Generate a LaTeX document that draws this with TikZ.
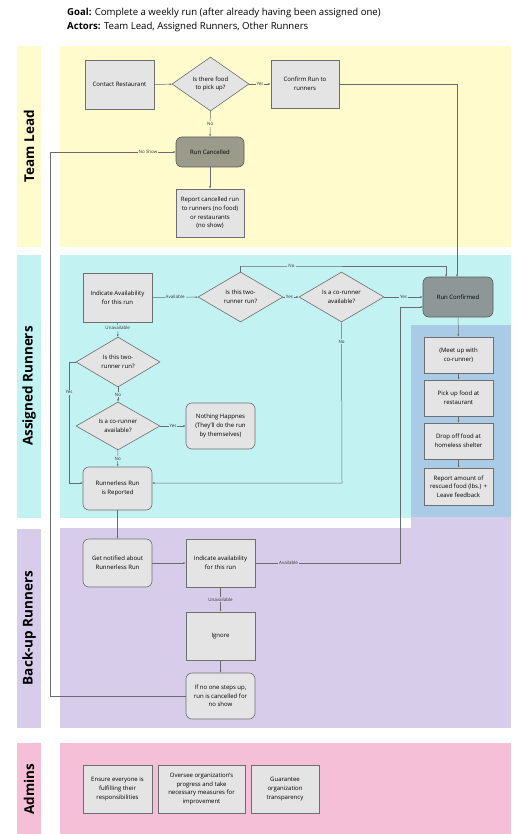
\documentclass[tikz,border=0pt]{standalone}
\usepackage{fontspec}
\setmainfont{Open Sans}
\usetikzlibrary{arrows.meta,shapes.geometric,calc}
\definecolor{laneY}{HTML}{FFFBCC}
\definecolor{laneC}{HTML}{C2F2F1}
\definecolor{laneB}{HTML}{A9CBE6}
\definecolor{laneP}{HTML}{D8CCEB}
\definecolor{laneK}{HTML}{F5BFD8}
\definecolor{boxF}{HTML}{E4E4E4}
\definecolor{boxD}{HTML}{6E6E6E}
\definecolor{darkA}{HTML}{9B9B8B}
\definecolor{darkB}{HTML}{8E9797}
\definecolor{lineC}{HTML}{6A6A72}
\begin{document}
\begin{tikzpicture}[x=1pt,y=-1pt,
  box/.style={draw=boxD,fill=boxF,line width=0.6pt,minimum width=#1,align=center,inner sep=1pt,font=\fontsize{6}{8.6}\selectfont},
  box/.default=69pt,
  rbox/.style={box=#1,rounded corners=6pt},
  rbox/.default=69pt,
  dbox/.style={draw=boxD,fill=boxF,line width=0.6pt,diamond,aspect=1.65,inner sep=0pt,align=center,font=\fontsize{6}{8.6}\selectfont},
  conn/.style={draw=lineC,line width=0.5pt,-{Latex[length=2.4pt,width=2pt]}},
  lbl/.style={font=\fontsize{4.5}{5}\selectfont,inner sep=1pt,text=black!80},
  lanelbl/.style={rotate=90,font=\fontsize{13.5}{14}\selectfont\bfseries}
]
\useasboundingbox (0,0) rectangle (526,834);
\fill[white] (0,0) rectangle (526,834);
% header
\node[anchor=west,inner sep=0pt,font=\fontsize{9.6}{12}\selectfont] (goal) at (67,13) {\textbf{Goal:} Complete a weekly run (after already having been assigned one)};
\node[anchor=west,inner sep=0pt,font=\fontsize{9.6}{12}\selectfont] (actors) at (67,27) {\textbf{Actors:} Team Lead, Assigned Runners, Other Runners};
% lanes
\fill[laneY] (17,46) rectangle (41,247);
\fill[laneY] (60,46) rectangle (511,247);
\fill[laneC] (17,255) rectangle (41,518);
\fill[laneC] (60,255) rectangle (511,518);
\fill[laneB] (411,325) rectangle (511,517);
\fill[laneP] (17,529) rectangle (41,728);
\fill[laneP] (60,528) rectangle (511,728);
\fill[laneP] (411,517) rectangle (511,528);
\fill[laneK] (17,743) rectangle (41,834);
\fill[laneK] (60,743) rectangle (511,834);
\node[lanelbl] (l1) at (29,146) {Team Lead};
\node[lanelbl] (l2) at (29,386) {Assigned Runners};
\node[lanelbl] (l3) at (29,628) {Back-up Runners};
\node[lanelbl] (l4) at (29,789) {Admins};
% Team lead nodes
\node[box,minimum height=49pt] (contact) at (119.5,84.5) {Contact Restaurant};
\node[dbox,minimum width=77pt,minimum height=54pt] (food) at (210.5,84) {Is there food\\to pick up?};
\node[box=68pt,minimum height=48pt] (confirm) at (305,84) {Confirm Run to\\runners};
\node[rbox=68pt,minimum height=30pt,fill=darkA,draw=black!65] (cancelled) at (210,152) {Run Cancelled};
\node[box=68pt,minimum height=48pt] (report) at (210,213) {Report cancelled run\\to runners (no food)\\or restaurants\\(no show)};
% Assigned runners nodes
\node[box,minimum height=49pt] (avail) at (117.5,297.5) {Indicate Availability\\for this run};
\node[dbox,minimum width=85pt,minimum height=50pt] (two1) at (240.5,297) {Is this two-\\runner run?};
\node[dbox,minimum width=85pt,minimum height=50pt] (co1) at (341.5,297) {Is a co-runner\\available?};
\node[rbox=70pt,minimum height=40pt,fill=darkB,draw=black!65] (confirmed) at (458,297) {Run Confirmed};
\node[box,minimum height=36pt] (meet) at (458.5,355) {(Meet up with\\co-runner)};
\node[box,minimum height=36pt] (pick) at (458.5,398) {Pick up food at\\restaurant};
\node[box,minimum height=36pt] (drop) at (458.5,441) {Drop off food at\\homeless shelter};
\node[box,minimum height=37pt] (amount) at (458.5,486.5) {Report amount of\\rescued food (lbs.) +\\Leave feedback};
\node[dbox,minimum width=84pt,minimum height=50pt] (two2) at (118,362) {Is this two-\\runner run?};
\node[dbox,minimum width=84pt,minimum height=48pt] (co2) at (118,426) {Is a co-runner\\available?};
\node[rbox,minimum height=46pt] (nothing) at (220.5,426) {Nothing Happnes\\(They'll do the run\\by themselves)};
\node[rbox,minimum height=43pt] (runnerless) at (117.5,488.5) {Runnerless Run\\is Reported};
% Back-up runners nodes
\node[rbox,minimum height=48pt] (notified) at (117.5,563) {Get notified about\\Runnerless Run};
\node[box,minimum height=48pt] (indicate) at (220.5,563) {Indicate availability\\for this run};
\node[box,minimum height=48pt] (ignore) at (220.5,636) {Ignore};
\node[rbox,minimum height=46pt] (noone) at (220.5,696) {If no one steps up,\\run is cancelled for\\no show};
% Admins nodes
\node[box,minimum height=48pt] (ensure) at (117.5,789) {Ensure everyone is\\fulfilling their\\responsibilities};
\node[box=87pt,minimum height=48pt] (oversee) at (201.5,789) {Oversee organization's\\progress and take\\necessary measures for\\improvement};
\node[box=68pt,minimum height=48pt] (guarantee) at (285,789) {Guarantee\\organization\\transparency};
% helper coordinates
\coordinate (cfA) at (446,277);
\coordinate (cfB) at (457,277);
\coordinate (cfL) at (423,307);
\coordinate (rlL) at (83,483);
\coordinate (rlR) at (152,483);
% connectors team lead
\draw[conn] (contact) -- (food);
\draw[conn] (food) -- node[lbl,fill=laneY] {Yes} (confirm);
\draw[conn] (food) -- node[lbl,fill=laneY] {No} (cancelled);
\draw[conn] (cancelled) -- (report);
\draw[conn] (confirm.east) -| (cfB);
% connectors assigned runners
\draw[conn] (avail) -- node[lbl,fill=laneC] {Available} (two1);
\draw[conn] (two1) -- node[lbl,fill=laneC,pos=0.4] {Yes} (co1);
\draw[conn] (co1) -- node[lbl,fill=laneC] {Yes} (confirmed);
\draw[conn] (two1.north) |- (240,266) -- node[lbl,fill=laneC,pos=0.25] {No} (446,266) -- (cfA);
\draw[conn] (avail) -- node[lbl,fill=laneC,pos=0.4] {Unavailable} (two2);
\draw[conn] (two2) -- node[lbl,fill=laneC] {No} (co2);
\draw[conn] (co2) -- node[lbl,fill=laneC] {Yes} (nothing);
\draw[conn] (co2) -- node[lbl,fill=laneC] {No} (runnerless);
\draw[conn] (two2.west) -- (69,362) -- node[lbl,fill=laneC,pos=0.25] {Yes} (69,483) -- (rlL);
\draw[conn] (co1.south) -- node[lbl,fill=laneC,pos=0.12] {No} (342,483) -- (rlR);
\draw[conn] (confirmed) -- (meet);
\draw[conn] (meet) -- (pick);
\draw[conn] (pick) -- (drop);
\draw[conn] (drop) -- (amount);
% connectors back-up runners
\draw[conn] (runnerless) -- (notified);
\draw[conn] (notified) -- (indicate);
\draw[conn] (indicate.east) -- node[lbl,fill=laneP,pos=0.23] {Available} (400,563) -- (400,307) -- (cfL);
\draw[conn] (indicate) -- node[lbl,fill=laneP] {Unavailable} (ignore);
\draw[conn] (ignore) -- (noone);
\draw[conn] (noone.west) -- (50,696) -- (50,152) -- node[lbl,fill=laneY,pos=0.78] {No Show} (cancelled.west);
\end{tikzpicture}
\end{document}
